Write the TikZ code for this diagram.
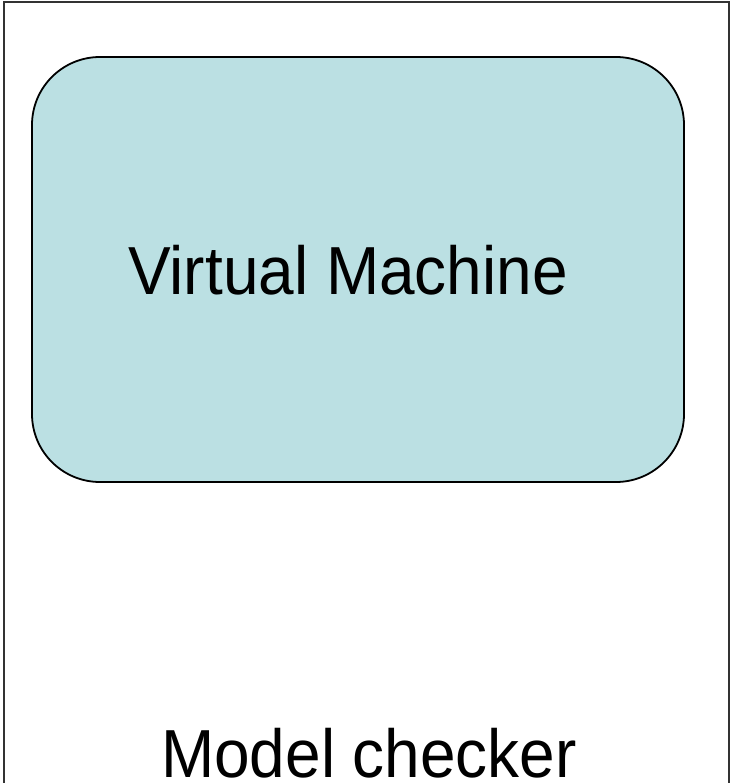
\documentclass[tikz,border=0pt]{standalone}
\usepackage{fontspec}
\setmainfont{Liberation Sans}
\definecolor{vmfill}{HTML}{BBE0E3}
\begin{document}
\begin{tikzpicture}[x=1pt,y=-1pt,
  outerbox/.style={draw=black!80,line width=1.5pt},
  vmbox/.style={draw=black,line width=1.8pt,fill=vmfill,rounded corners=68pt},
  bigtext/.style={font=\fontsize{68}{68}\selectfont,inner sep=0pt,anchor=base,xscale=0.94}]
\useasboundingbox (0,0) rectangle (731,783);
\clip (0,0) rectangle (731,783);
\draw[outerbox] (4,2) rectangle (729,800);
\draw[vmbox] (32,57) rectangle (684,482);
\node[bigtext] (vm) at (348,294) {Virtual Machine};
\node[bigtext] (mc) at (369,777) {Model checker};
\end{tikzpicture}
\end{document}
